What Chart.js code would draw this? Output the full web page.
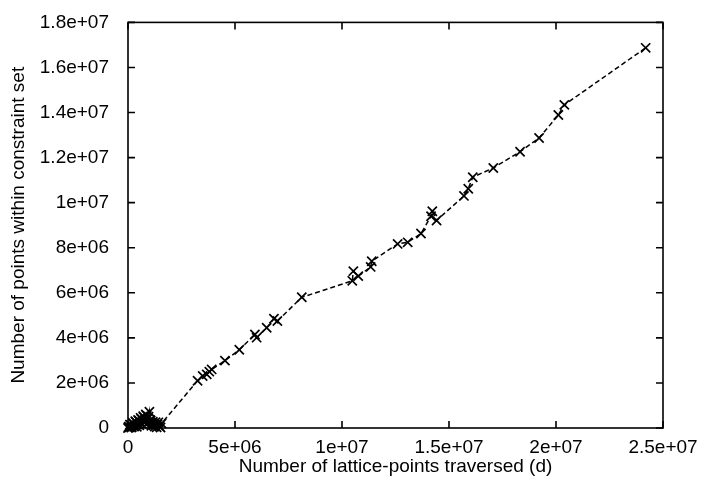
<!DOCTYPE html>
<html>
<head>
<meta charset="utf-8">
<script src="https://cdn.jsdelivr.net/npm/chart.js@4/dist/chart.umd.min.js"></script>
<style>
  html, body { margin: 0; padding: 0; background: #fff; }
  #wrap { width: 701px; height: 491px; position: relative; }
</style>
</head>
<body>
<div id="wrap"><canvas id="c" width="701" height="491"></canvas></div>
<script>
// ---- data ----
const xValues = [
  0, 30000, 60000, 90000, 120000, 150000, 180000, 220000, 250000, 280000,
  300000, 340000, 380000, 410000, 430000, 470000, 500000, 530000, 560000, 590000,
  620000, 650000, 680000, 710000, 740000, 770000, 800000, 830000, 870000, 900000,
  930000, 960000, 1000000, 1030000, 1060000, 1090000, 1120000, 1160000, 1200000, 1250000,
  1290000, 1340000, 1380000, 1420000, 1470000, 1520000, 1570000,
  3250000, 3490000, 3680000, 3800000, 3910000, 4530000, 5200000, 5930000, 6010000, 6480000,
  6820000, 6980000, 8120000, 10480000, 10530000, 10760000, 11340000, 11390000, 12600000, 13070000,
  13690000, 14160000, 14220000, 14420000, 15700000, 15900000, 16110000, 17070000, 18320000, 19210000,
  20110000, 20390000, 24190000
];
const yValues = [
  0, 60000, 30000, 150000, 120000, 20000, 40000, 230000, 180000, 60000,
  90000, 300000, 260000, 50000, 150000, 360000, 330000, 120000, 220000, 450000,
  400000, 180000, 300000, 520000, 480000, 250000, 380000, 600000, 560000, 200000,
  420000, 500000, 720000, 350000, 330000, 100000, 220000, 280000, 120000, 60000,
  260000, 30000, 160000, 250000, 80000, 20000, 200000,
  2100000, 2310000, 2380000, 2500000, 2600000, 2990000, 3470000, 4150000, 4010000, 4450000,
  4850000, 4750000, 5800000, 6530000, 6960000, 6740000, 7150000, 7400000, 8170000, 8240000,
  8630000, 9400000, 9620000, 9210000, 10300000, 10620000, 11130000, 11540000, 12260000, 12870000,
  13890000, 14340000, 16870000
];
const xTickValues = [0, 5000000, 10000000, 15000000, 20000000, 25000000];
const xTickLabels = ['0', '5e+06', '1e+07', '1.5e+07', '2e+07', '2.5e+07'];
const yTickValues = [0, 2000000, 4000000, 6000000, 8000000, 10000000, 12000000, 14000000, 16000000, 18000000];
const yTickLabels = ['0', '2e+06', '4e+06', '6e+06', '8e+06', '1e+07', '1.2e+07', '1.4e+07', '1.6e+07', '1.8e+07'];
const xTitle = 'Number of lattice-points traversed (d)';
const yTitle = 'Number of points within constraint set';

const points = xValues.map((x, i) => ({ x: x, y: yValues[i] }));

function labelFor(values, labels, v) {
  const i = values.findIndex(t => Math.abs(t - v) < 1);
  return i >= 0 ? labels[i] : '';
}

// gnuplot-style frame with inward ticks on all four sides
const framePlugin = {
  id: 'frame',
  afterDatasetsDraw(chart) {
    const { ctx, chartArea: a, scales } = chart;
    const xs = scales.x, ys = scales.y;
    const tl = 7;
    ctx.save();
    ctx.strokeStyle = '#000';
    ctx.lineWidth = 1.6;
    ctx.strokeRect(a.left, a.top, a.right - a.left, a.bottom - a.top);
    ctx.beginPath();
    xTickValues.forEach(v => {
      const px = xs.getPixelForValue(v);
      ctx.moveTo(px, a.bottom); ctx.lineTo(px, a.bottom - tl);
      ctx.moveTo(px, a.top); ctx.lineTo(px, a.top + tl);
    });
    yTickValues.forEach(v => {
      const py = ys.getPixelForValue(v);
      ctx.moveTo(a.left, py); ctx.lineTo(a.left + tl, py);
      ctx.moveTo(a.right, py); ctx.lineTo(a.right - tl, py);
    });
    ctx.stroke();
    ctx.restore();
  }
};

const font = { family: '"Liberation Sans", Arial, Helvetica, sans-serif', size: 19 };

new Chart(document.getElementById('c'), {
  type: 'scatter',
  data: {
    datasets: [{
      data: points,
      showLine: true,
      borderColor: '#000',
      borderWidth: 1.5,
      borderDash: [5, 3],
      pointStyle: 'crossRot',
      pointRadius: 6.5,
      pointBorderWidth: 1.7,
      pointBorderColor: '#000',
      pointBackgroundColor: '#000',
      pointHoverRadius: 6.5,
      clip: false,
      tension: 0
    }]
  },
  options: {
    responsive: false,
    animation: false,
    events: [],
    layout: { padding: { left: 0, right: 38, top: 15, bottom: 0 } },
    plugins: { legend: { display: false }, tooltip: { enabled: false } },
    scales: {
      x: {
        type: 'linear',
        min: 0, max: 25000000,
        grid: { display: false },
        border: { display: false },
        afterBuildTicks(scale) { scale.ticks = xTickValues.map(v => ({ value: v })); },
        afterFit(scale) { scale.height = 63; },
        ticks: {
          color: '#000', font: font, padding: 0, maxRotation: 0, autoSkip: false,
          callback: v => labelFor(xTickValues, xTickLabels, v)
        },
        title: { display: true, text: xTitle, color: '#000', font: font, padding: { top: 0, bottom: 13 } }
      },
      y: {
        type: 'linear',
        min: 0, max: 18000000,
        grid: { display: false },
        border: { display: false },
        afterBuildTicks(scale) { scale.ticks = yTickValues.map(v => ({ value: v })); },
        afterFit(scale) { scale.width = 128; },
        ticks: {
          color: '#000', font: font, padding: 11, autoSkip: false,
          callback: v => labelFor(yTickValues, yTickLabels, v)
        },
        title: { display: true, text: yTitle, color: '#000', font: font, padding: { top: 7, bottom: 0 } }
      }
    }
  },
  plugins: [framePlugin]
});
</script>
</body>
</html>
